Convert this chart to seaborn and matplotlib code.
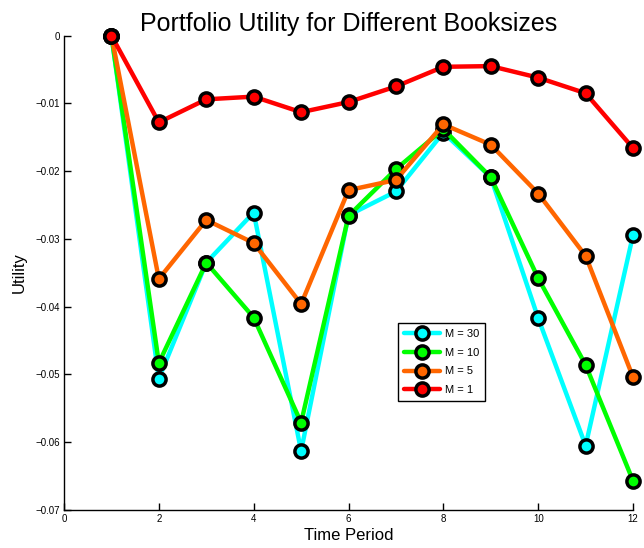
import matplotlib
matplotlib.use("Agg")
import matplotlib.pyplot as plt
import seaborn as sns
import pandas as pd
from matplotlib.ticker import FixedLocator, FuncFormatter

# Utility per time period for each booksize M
periods = list(range(1, 13))
m30 = [0.0, -0.0506, -0.0335, -0.0261, -0.0613, -0.0265, -0.0230, -0.0143, -0.0209, -0.0417, -0.0605, -0.0294]
m10 = [0.0, -0.0483, -0.0335, -0.0416, -0.0571, -0.0266, -0.0197, -0.0138, -0.0209, -0.0358, -0.0486, -0.0657]
m5 = [0.0, -0.0359, -0.0272, -0.0306, -0.0396, -0.0228, -0.0213, -0.0131, -0.0161, -0.0233, -0.0325, -0.0504]
m1 = [0.0, -0.0128, -0.0094, -0.0090, -0.0113, -0.0098, -0.0075, -0.0046, -0.0045, -0.0062, -0.0085, -0.0166]

labels = ["M = 30", "M = 10", "M = 5", "M = 1"]
colors = ["#00FFFF", "#00FF00", "#FF6600", "#FF0000"]
series = [m30, m10, m5, m1]

x_ticks = [0, 2, 4, 6, 8, 10, 12]
y_ticks = [0, -0.01, -0.02, -0.03, -0.04, -0.05, -0.06, -0.07]

sns.set_style("white")
plt.rcParams["font.family"] = ["Liberation Sans", "DejaVu Sans"]
plt.rcParams["text.color"] = "black"
plt.rcParams["axes.labelcolor"] = "black"

fig = plt.figure(figsize=(6.44, 5.48), dpi=100)
ax = fig.add_axes([0.0994, 0.0693, 0.8836, 0.8657])

for lab, col, vals in zip(labels, colors, series):
    df = pd.DataFrame({"period": periods, "utility": vals})
    sns.lineplot(data=df, x="period", y="utility", ax=ax, color=col, lw=3.2,
                 marker="o", markersize=9.5, markerfacecolor=col,
                 markeredgecolor="black", markeredgewidth=2.5, label=lab,
                 clip_on=False)

ax.set_xlim(0, 12)
ax.set_ylim(-0.07, 0)
ax.xaxis.set_major_locator(FixedLocator(x_ticks))
ax.yaxis.set_major_locator(FixedLocator(y_ticks))
ax.xaxis.set_major_formatter(FuncFormatter(lambda v, p: f"{int(round(v))}"))
ax.yaxis.set_major_formatter(
    FuncFormatter(lambda v, p: "0" if abs(v) < 1e-12 else f"{v:.2f}".replace("-", "\u2212")))

ax.tick_params(direction="in", length=5, width=1, labelsize=7, color="black",
               labelcolor="black", pad=3, bottom=True, left=True)
for side in ["top", "right"]:
    ax.spines[side].set_visible(False)
for side in ["left", "bottom"]:
    ax.spines[side].set_color("black")
    ax.spines[side].set_linewidth(1)

ax.set_title("Portfolio Utility for Different Booksizes", fontsize=18, pad=3, color="black")
ax.set_xlabel("Time Period", fontsize=12, labelpad=2.5, color="black")
ax.set_ylabel("Utility", fontsize=12, labelpad=6, color="black")

leg = ax.legend(loc="upper left", bbox_to_anchor=(0.587, 0.394), fontsize=8,
                frameon=True, fancybox=False, framealpha=1, edgecolor="black",
                handlelength=3.3, borderpad=0.5, labelspacing=0.8,
                handletextpad=0.4, borderaxespad=0)
leg.get_frame().set_linewidth(1)
for t in leg.get_texts():
    t.set_color("black")

fig.savefig("out.png", dpi=100)
